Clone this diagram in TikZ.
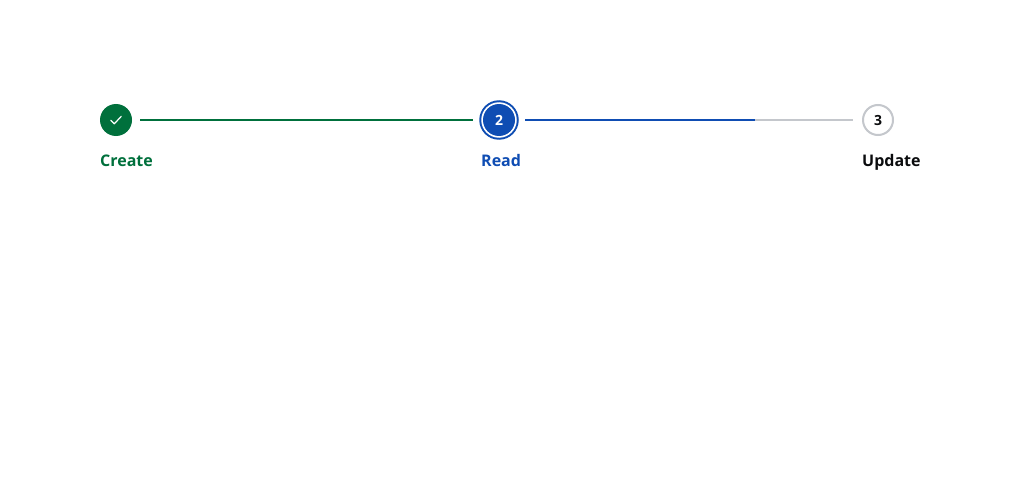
\documentclass[tikz,border=0pt]{standalone}
\usepackage{fontspec}
\setmainfont{Open Sans}
\definecolor{okgreen}{HTML}{00703C}
\definecolor{actblue}{HTML}{0F4DB3}
\definecolor{restgrey}{HTML}{C4C7CC}
\definecolor{inkblack}{HTML}{0B0C0E}
\tikzset{
  x=1pt,y=-1pt,
  stepdot/.style={circle,inner sep=0pt,minimum size=#1,line width=0pt},
  steplabel/.style={anchor=base west,inner sep=0pt,font=\fontsize{16}{16}\selectfont\bfseries},
  stepnum/.style={font=\fontsize{14}{14}\selectfont\bfseries},
  link/.style={line width=2pt},
}
\begin{document}
\begin{tikzpicture}
\useasboundingbox (0,0) rectangle (1024,500);
\fill[white] (0,0) rectangle (1024,500);
% steps
\node[stepdot=32pt,fill=okgreen] (s1) at (116,120) {};
\draw[white,line width=1.2pt,line cap=round,line join=round] (110.8,120.3) -- (114.3,123.8) -- (121.3,116.3);
\node[stepdot=39.5pt,fill=actblue] (s2o) at (499,120) {};
\node[stepdot=35.5pt,fill=white] (s2w) at (499,120) {};
\node[stepdot=32pt,fill=actblue,text=white,stepnum] (s2) at (499,120) {2};
\node[stepdot=30pt,draw=restgrey,line width=2pt,fill=white,text=inkblack,stepnum] (s3) at (878,120) {3};
% connectors
\coordinate (split) at (755,120);
\draw[link,okgreen] ([xshift=8pt]s1.east) -- ([xshift=-6.75pt]s2o.west);
\draw[link,restgrey] (split) -- ([xshift=-9pt]s3.west);
\draw[link,actblue] ([xshift=6.25pt]s2o.east) -- (split);
% labels
\node[steplabel,text=okgreen] (l1) at (100,166) {Create};
\node[steplabel,text=actblue] (l2) at (481,166) {Read};
\node[steplabel,text=inkblack] (l3) at (862,166) {Update};
\end{tikzpicture}
\end{document}
